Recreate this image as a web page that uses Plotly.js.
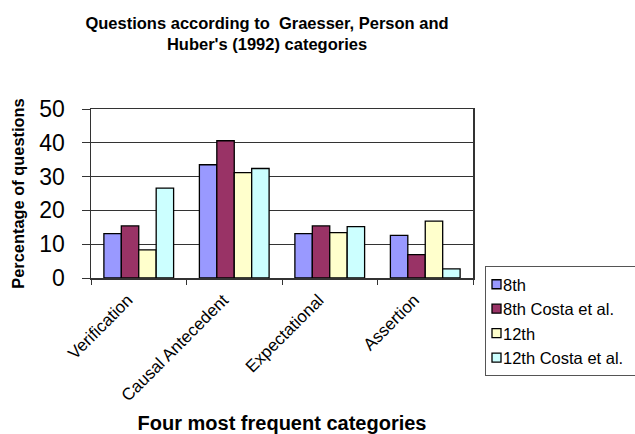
<!DOCTYPE html>
<html><head><meta charset="utf-8">
<script src="https://cdn.plot.ly/plotly-3.0.1.min.js"></script>
<style>html,body{margin:0;padding:0;background:#fff}#c{width:635px;height:434px}</style>
</head><body><div id="c"></div>
<script>
const categories = ["Verification", "Causal Antecedent", "Expectational", "Assertion"];
const seriesNames = ["8th", "8th Costa et al.", "12th", "12th Costa et al."];
const s8th = [13.1, 33.5, 13.1, 12.6];
const s8thCosta = [15.4, 40.6, 15.4, 6.9];
const s12th = [8.3, 31.2, 13.4, 16.8];
const s12thCosta = [26.6, 32.4, 15.2, 2.7];
const yTicks = [0, 10, 20, 30, 40, 50];
const colors = ["#9999FF", "#993366", "#FFFFCC", "#CCFFFF"];

const values = [s8th, s8thCosta, s12th, s12thCosta];
const F = "Liberation Sans, Arial, sans-serif";
const traces = values.map((v, i) => ({
  type: "bar", x: categories, y: v, name: seriesNames[i],
  legendgroup: "g" + i,
  marker: {color: colors[i], line: {color: "#000", width: 1.3}},
  hoverinfo: "x+y+name"
}));

const layout = {
  width: 635, height: 434,
  margin: {l: 91, r: 162, t: 109, b: 156, autoexpand: false},
  paper_bgcolor: "#fff", plot_bgcolor: "#fff",
  font: {family: F, color: "#000"},
  barmode: "group", bargap: 0.27, bargroupgap: 0,
  title: {text: "<b>Questions according to  Graesser, Person and<br>Huber's (1992) categories</b>",
          font: {size: 16.5, family: F, color: "#000"},
          x: 267/635, xref: "container", xanchor: "center",
          yref: "container", y: 1 - 29/434, yanchor: "middle"},
  xaxis: {
    type: "category", tickangle: -45, tickfont: {size: 17, family: F},
    tickson: "boundaries", ticks: "outside", ticklen: 5, tickcolor: "#333",
    ticklabelshift: -11, ticklabelstandoff: 4,
    showline: true, linecolor: "#333", linewidth: 1.5, mirror: true,
    showgrid: false, automargin: false,
    title: {text: "<b>Four most frequent categories</b>", font: {size: 20, family: F}, standoff: 13}
  },
  yaxis: {
    range: [0, 50], tickvals: yTicks, ticktext: yTicks.map(String),
    tickfont: {size: 23, family: F}, ticks: "outside", ticklen: 8, tickcolor: "#333",
    ticklabelstandoff: 12, automargin: false,
    showline: true, linecolor: "#333", linewidth: 1.5, mirror: true,
    showgrid: true, gridcolor: "#333", gridwidth: 1.2, zeroline: false,
    title: {text: "<b>Percentage of questions</b>", font: {size: 16.4, family: F}, standoff: 10}
  },
  legend: {
    x: (485 - 91) / 382, xanchor: "left", y: (278 - 266) / 169, yanchor: "top",
    font: {size: 16.5, family: F}, bordercolor: "#555", borderwidth: 1,
    bgcolor: "#fff", traceorder: "grouped", tracegroupgap: 0
  },
  showlegend: true
};
Plotly.newPlot("c", traces, layout, {displayModeBar: false, staticPlot: true}).then(gd => {
  // compact legend symbols: small squares close to the text
  const lg = gd.querySelector(".legend");
  if (!lg) return;
  lg.querySelectorAll(".traces").forEach(t => {
    const pts = t.querySelector(".legendpoints");
    if (pts) {
      pts.setAttribute("transform", "translate(-9.5,0)");
      pts.querySelectorAll("path").forEach(p => p.setAttribute("d", "M4.5,4.5H-4.5V-4.5H4.5Z"));
    }
    const tx = t.querySelector("text.legendtext");
    if (tx) {
      tx.setAttribute("x", "17");
      tx.querySelectorAll("tspan").forEach(s => { if (s.getAttribute("x")) s.setAttribute("x", "17"); });
    }
  });
  const bg = lg.querySelector("rect.bg");
  if (bg) bg.setAttribute("width", String(635 - 485 + 10));
});
</script></body></html>
